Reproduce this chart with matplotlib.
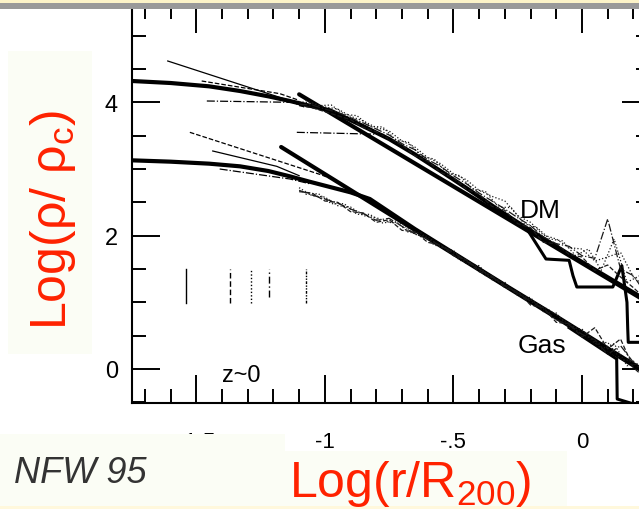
import matplotlib
matplotlib.use("Agg")
import matplotlib.pyplot as plt
from matplotlib.patches import Rectangle
from matplotlib.ticker import MultipleLocator

plt.rcParams['font.family'] = ['Liberation Sans', 'DejaVu Sans']
plt.rcParams['mathtext.fontset'] = 'custom'
plt.rcParams['mathtext.rm'] = 'Liberation Sans'
plt.rcParams['mathtext.it'] = 'Liberation Sans:italic'

# --- fitted profiles (log r/R200, log rho/rho_c) ---
dm_fit_x = [-1.75, -1.60, -1.45, -1.33, -1.22, -1.136, -1.06, -0.98, -0.86, -0.75,
            -0.65, -0.55, -0.44, -0.33, -0.21, -0.05, 0.12, 0.26]
dm_fit_y = [4.32, 4.29, 4.24, 4.17, 4.09, 4.02, 3.95, 3.88, 3.66, 3.45,
            3.22, 2.97, 2.69, 2.40, 2.10, 1.72, 1.33, 1.01]
dm_pl_x = [-1.10, 0.26]
dm_pl_y = [4.12, 0.99]

gas_fit_x = [-1.75, -1.60, -1.45, -1.33, -1.22, -1.136, -1.06, -0.99, -0.90, -0.825,
             -0.65, -0.475, -0.30, -0.10, 0.10, 0.26]
gas_fit_y = [3.13, 3.11, 3.08, 3.04, 2.97, 2.89, 2.81, 2.74, 2.65, 2.55,
             2.10, 1.68, 1.26, 0.79, 0.31, -0.07]
gas_pl_x = [-1.17, 0.26]
gas_pl_y = [3.33, -0.09]

# single halo that drops off at large radius
dm_halo_x = [-0.33, -0.214, -0.14, -0.05, -0.035, -0.02, 0.12, 0.155, 0.175, 0.178, 0.18, 0.265]
dm_halo_y = [2.40, 2.10, 1.65, 1.63, 1.40, 1.23, 1.23, 1.55, 1.00, 0.60, 0.40, 0.40]
gas_halo_x = [-0.05, 0.135, 0.137, 0.265]
gas_halo_y = [0.62, 0.15, -0.45, -0.60]

# simulated profiles, on two interleaved radial grids
sim_x = [-1.10, -1.05, -1.00, -0.95, -0.90, -0.85, -0.80, -0.75, -0.70, -0.65,
         -0.60, -0.55, -0.50, -0.45, -0.40, -0.35, -0.30, -0.25, -0.20, -0.15,
         -0.10, -0.05, 0.00, 0.05, 0.10, 0.15, 0.20, 0.25]
sim_x2 = [-1.075, -1.025, -0.975, -0.925, -0.875, -0.825, -0.775, -0.725, -0.675,
          -0.625, -0.575, -0.525, -0.475, -0.425, -0.375, -0.325, -0.275, -0.225,
          -0.175, -0.125, -0.075, -0.025, 0.025, 0.075, 0.125, 0.175, 0.225]
dm_sim_a = [4.01, 3.99, 3.93, 3.90, 3.79, 3.72, 3.62, 3.57, 3.42, 3.33,
            3.17, 3.08, 2.93, 2.84, 2.68, 2.59, 2.52, 2.30, 2.20, 2.01,
            1.95, 1.82, 1.80, 1.62, 1.68, 1.75, 1.38, 1.22]
dm_sim_b = [3.95, 3.92, 3.86, 3.80, 3.74, 3.62, 3.56, 3.45, 3.36, 3.20,
            3.12, 2.95, 2.87, 2.70, 2.62, 2.44, 2.38, 2.18, 2.12, 1.90,
            1.88, 1.72, 1.68, 1.48, 1.56, 1.38, 1.22, 1.04]
dm_sim_c = [3.97, 3.96, 3.90, 3.85, 3.77, 3.69, 3.60, 3.51, 3.38, 3.29,
            3.14, 3.04, 2.90, 2.78, 2.64, 2.52, 2.40, 2.27, 2.15, 1.98,
            1.88, 1.84, 1.70, 1.66, 2.25, 1.50, 1.40, 1.12]
dm_sim_d = [4.03, 3.95, 3.96, 3.82, 3.80, 3.64, 3.63, 3.44, 3.40, 3.19,
            3.15, 2.94, 2.90, 2.70, 2.66, 2.43, 2.42, 2.18, 2.12, 1.95,
            1.92, 1.70, 1.80, 1.48, 1.95, 1.30, 1.40]
gas_sim_a = [2.72, 2.60, 2.58, 2.45, 2.43, 2.30, 2.27, 2.20, 2.18, 2.02,
             1.99, 1.82, 1.78, 1.58, 1.55, 1.34, 1.30, 1.10, 1.07, 0.86,
             0.84, 0.62, 0.60, 0.38, 0.40, 0.15, 0.12, -0.10]
gas_sim_b = [2.66, 2.64, 2.52, 2.50, 2.36, 2.34, 2.20, 2.24, 2.08, 2.06,
             1.90, 1.86, 1.70, 1.64, 1.46, 1.40, 1.22, 1.16, 0.96, 0.92,
             0.70, 0.68, 0.48, 0.62, 0.30, 0.45, 0.02, -0.15]
gas_sim_c = [2.68, 2.61, 2.55, 2.49, 2.40, 2.33, 2.23, 2.26, 2.14, 2.03,
             1.95, 1.85, 1.75, 1.62, 1.50, 1.38, 1.25, 1.13, 1.02, 0.90,
             0.74, 0.66, 0.52, 0.44, 0.22, 0.35, 0.10, -0.05]
gas_sim_d = [2.62, 2.63, 2.48, 2.48, 2.32, 2.32, 2.19, 2.22, 2.05, 2.04,
             1.86, 1.81, 1.63, 1.59, 1.40, 1.34, 1.20, 1.10, 0.98, 0.88,
             0.74, 0.62, 0.52, 0.30, 0.38, 0.05, 0.08]

# inner profiles of the individual runs
inner_lines = [
    ([-1.611, -1.10], [4.62, 3.98], '-'),
    ([-1.479, -1.175, -1.10], [4.32, 4.13, 4.03], '--'),
    ([-1.459, -1.125, -1.08], [4.02, 4.00, 3.93], '-.'),
    ([-1.109, -0.774, -0.70], [3.55, 3.52, 3.32], '-.'),
    ([-1.525, -1.02, -0.95], [3.55, 2.92, 2.82], '--'),
    ([-1.436, -1.187, -1.10], [3.27, 3.04, 2.90], '-'),
    ([-1.409, -1.136, -1.06], [3.00, 2.85, 2.78], '-.'),
]

# softening length markers
soft_x = [-1.541, -1.370, -1.288, -1.218, -1.074]
soft_lo = [0.99, 0.99, 0.99, 1.08, 0.99]
soft_hi = [1.50, 1.50, 1.50, 1.50, 1.50]
soft_ls = ['-', (0, (4, 2)), (0, (1, 1.5)), (0, (5, 2, 1, 2)), (0, (2, 1, 1, 1, 1, 1))]

W, H = 639, 510


def px_box(x0, y0, x1, y1):
    return (x0 / W, 1 - y1 / H, (x1 - x0) / W, (y1 - y0) / H)


fig = plt.figure(figsize=(6.39, 5.10), dpi=100)
ax = fig.add_axes(px_box(132, 6, 650, 404))
ax.set_xlim(-1.75, 0.2646)
ax.set_ylim(-0.51, 5.46)

thick = dict(color='black', lw=3.0, solid_capstyle='round')
ax.plot(dm_fit_x, dm_fit_y, **thick)
ax.plot(dm_pl_x, dm_pl_y, **thick)
ax.plot(gas_fit_x, gas_fit_y, **thick)
ax.plot(gas_pl_x, gas_pl_y, **thick)
ax.plot(dm_halo_x, dm_halo_y, color='black', lw=2.2)
ax.plot(gas_halo_x, gas_halo_y, color='black', lw=2.2)

for xs, ys, ls in [(sim_x, dm_sim_a, ':'), (sim_x, dm_sim_b, '--'), (sim_x, dm_sim_c, '-.'),
                   (sim_x2, dm_sim_d, ':'),
                   (sim_x, gas_sim_a, ':'), (sim_x, gas_sim_b, '--'), (sim_x, gas_sim_c, '-.'),
                   (sim_x2, gas_sim_d, ':')]:
    ax.plot(xs, ys, color='#1a1a1a', lw=0.9, ls=ls)

for xs, ys, ls in inner_lines:
    ax.plot(xs, ys, color='black', lw=0.9, ls=ls)

for x, lo, hi, ls in zip(soft_x, soft_lo, soft_hi, soft_ls):
    ax.plot([x, x], [lo, hi], color='black', lw=1.0, ls=ls)

ax.text(-0.241, 2.28, 'DM', fontsize=19, ha='left', va='baseline')
ax.text(-0.249, 0.255, 'Gas', fontsize=19, ha='left', va='baseline')
ax.text(-1.401, -0.18, 'z~0', fontsize=17, ha='left', va='baseline')

ax.set_xticks([-1.5, -1.0, -0.5, 0.0], labels=['-1.5', '-1', '-.5', '0'])
ax.set_yticks([0, 2, 4], labels=['0', '2', '4'])
ax.xaxis.set_minor_locator(MultipleLocator(0.1))
ax.yaxis.set_minor_locator(MultipleLocator(0.5))
ax.tick_params(which='both', direction='in', top=True, right=True, width=1.4, color='black')
ax.tick_params(which='major', length=20)
ax.tick_params(which='minor', length=10)
ax.tick_params(axis='x', labelsize=16, pad=20)
ax.tick_params(axis='y', labelsize=17, pad=10)
for sp in ax.spines.values():
    sp.set_linewidth(1.5)

# slide decoration on top of the plot
box_col = '#fbfdf5'
for x0, y0, x1, y1, col in [(8, 52, 92, 355, box_col),
                            (0, 435, 285, 507, box_col),
                            (285, 452, 567, 507, box_col),
                            (0, 507, 639, 510, '#fff8dc'),
                            (0, 0, 639, 4, '#fcf3c8'),
                            (0, 4, 639, 10, '#999999')]:
    fig.add_artist(Rectangle(px_box(x0, y0, x1, y1)[:2], (x1 - x0) / W, (y1 - y0) / H,
                             transform=fig.transFigure, facecolor=col,
                             edgecolor='none', zorder=5))

red = '#ff2200'
fig.text(14 / W, 1 - 483 / H, 'NFW 95', fontsize=26, style='italic',
         color='#333333', ha='left', va='baseline', zorder=6)
fig.text(410 / W, 1 - 497 / H, 'Log(r/R$_{200}$)', fontsize=36, color=red,
         ha='center', va='baseline', zorder=6)
fig.text(53 / W, 1 - 220 / H, 'Log(ρ/ ρ$_\\mathrm{c}$)', fontsize=36, color=red,
         rotation=90, ha='center', va='center', zorder=6)

fig.savefig('out.png', dpi=100)
